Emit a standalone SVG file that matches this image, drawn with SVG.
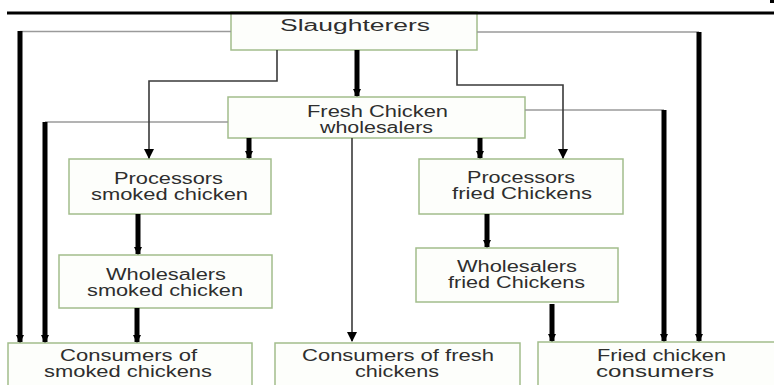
<svg xmlns="http://www.w3.org/2000/svg" width="774" height="385" viewBox="0 0 774 385">
<style>
.box{fill:#fdfefb;stroke:#a2bd8c;stroke-width:1.5}
.t{font-family:"Liberation Sans",Arial,sans-serif;font-size:16px;fill:#2e2e2e}
.thick{stroke:#000;stroke-width:5;fill:none}
.thin{stroke:#3a3a3a;stroke-width:1.6;fill:none}
.feed{stroke:#9a9a9a;stroke-width:1.5;fill:none}
</style>
<defs>
<marker id="ahd" markerUnits="userSpaceOnUse" markerWidth="10" markerHeight="10" refX="9" refY="5" orient="auto" viewBox="0 0 10 10">
<path d="M0,0 L10,5 L0,10 Z" fill="#000"/>
</marker>
<marker id="ahk" markerUnits="userSpaceOnUse" markerWidth="9" markerHeight="8" refX="7" refY="4" orient="auto" viewBox="0 0 8 8">
<path d="M0,0 L8,4 L0,8 Z" fill="#000"/>
</marker>
</defs>
<rect width="774" height="385" fill="#fff"/>

<g id="n-slaughterers"><rect class="box" x="231" y="12" width="246" height="38"/><text class="t" x="280" y="31" textLength="150" lengthAdjust="spacingAndGlyphs">Slaughterers</text></g>
<g id="n-fresh-wholesalers"><rect class="box" x="228" y="97" width="297" height="41"/><text class="t" x="307" y="117" textLength="141" lengthAdjust="spacingAndGlyphs">Fresh Chicken</text><text class="t" x="320" y="133" textLength="113" lengthAdjust="spacingAndGlyphs">wholesalers</text></g>
<g id="n-proc-smoked"><rect class="box" x="69" y="159" width="202" height="55"/><text class="t" x="114" y="184" textLength="109" lengthAdjust="spacingAndGlyphs">Processors</text><text class="t" x="91" y="200" textLength="157" lengthAdjust="spacingAndGlyphs">smoked chicken</text></g>
<g id="n-whole-smoked"><rect class="box" x="59" y="255" width="213" height="53"/><text class="t" x="106" y="280" textLength="120" lengthAdjust="spacingAndGlyphs">Wholesalers</text><text class="t" x="87" y="296" textLength="156" lengthAdjust="spacingAndGlyphs">smoked chicken</text></g>
<g id="n-proc-fried"><rect class="box" x="419" y="159" width="204" height="55"/><text class="t" x="467" y="183" textLength="108" lengthAdjust="spacingAndGlyphs">Processors</text><text class="t" x="452" y="199" textLength="140" lengthAdjust="spacingAndGlyphs">fried Chickens</text></g>
<g id="n-whole-fried"><rect class="box" x="416" y="248" width="202" height="54"/><text class="t" x="457" y="272" textLength="120" lengthAdjust="spacingAndGlyphs">Wholesalers</text><text class="t" x="448" y="288" textLength="137" lengthAdjust="spacingAndGlyphs">fried Chickens</text></g>
<g id="n-cons-smoked"><rect class="box" x="8" y="343" width="244" height="46"/><text class="t" x="60" y="361" textLength="137" lengthAdjust="spacingAndGlyphs">Consumers of</text><text class="t" x="44" y="377" textLength="168" lengthAdjust="spacingAndGlyphs">smoked chickens</text></g>
<g id="n-cons-fresh"><rect class="box" x="275" y="343" width="245" height="46"/><text class="t" x="302" y="361" textLength="192" lengthAdjust="spacingAndGlyphs">Consumers of fresh</text><text class="t" x="355" y="377" textLength="84" lengthAdjust="spacingAndGlyphs">chickens</text></g>
<g id="n-cons-fried"><rect class="box" x="538" y="342" width="245" height="47"/><text class="t" x="597" y="361" textLength="129" lengthAdjust="spacingAndGlyphs">Fried chicken</text><text class="t" x="596" y="377" textLength="118" lengthAdjust="spacingAndGlyphs">consumers</text></g>

<g id="connectors">
<path class="feed" d="M231,31.5 H20"/>
<path class="thick" d="M20,31 V342" marker-end="url(#ahk)"/>
<path class="feed" d="M228,122 H45"/>
<path class="thick" d="M45,122 V342" marker-end="url(#ahk)"/>
<path class="feed" d="M477,32 H699"/>
<path class="thick" d="M699,32 V341" marker-end="url(#ahk)"/>
<path class="feed" d="M525,110 H664"/>
<path class="thick" d="M664,110 V341" marker-end="url(#ahk)"/>
<path class="thin" d="M277,50 V81 H149 V158" marker-end="url(#ahd)"/>
<path class="thin" d="M457,50 V85 H563 V158" marker-end="url(#ahd)"/>
<path class="thick" d="M357,50 V96" marker-end="url(#ahk)"/>
<path class="thick" d="M249,138 V158" marker-end="url(#ahk)"/>
<path class="thin" d="M352,138 V341" marker-end="url(#ahd)"/>
<path class="thick" d="M480,138 V158" marker-end="url(#ahk)"/>
<path class="thick" d="M138,214 V254" marker-end="url(#ahk)"/>
<path class="thick" d="M137,308 V342" marker-end="url(#ahk)"/>
<path class="thick" d="M487,214 V247" marker-end="url(#ahk)"/>
<path class="thick" d="M552,304 V341" marker-end="url(#ahk)"/>
</g>
<rect x="7" y="11.5" width="767" height="3" fill="#000"/>
<rect x="770" y="0" width="4" height="3" fill="#000"/>
</svg>
